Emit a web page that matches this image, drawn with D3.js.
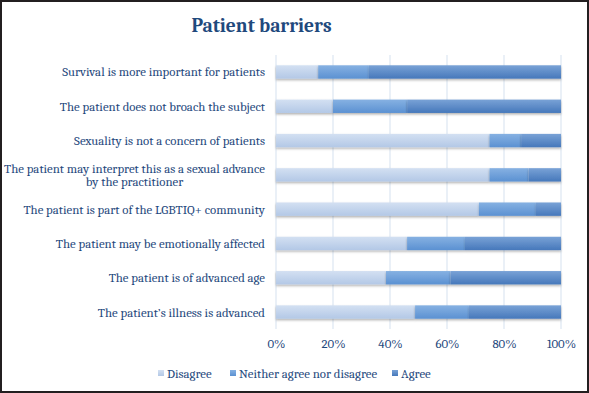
<!DOCTYPE html>
<html>
<head>
<meta charset="utf-8">
<script src="https://d3js.org/d3.v7.min.js"></script>
<style>
    html, body { margin: 0; padding: 0; background: #fff; }
    svg { display: block; }
</style>
</head>
<body>
<div id="chart"></div>
<script>
// answer categories, in stacking order
var series = ['Disagree', 'Neither agree nor disagree', 'Agree'];

// barriers, top to bottom (two-line labels split with \n)
var barriers = [
    'Survival is more important for patients',
    'The patient does not broach the subject',
    'Sexuality is not a concern of patients',
    'The patient may interpret this as a sexual advance\nby the practitioner',
    'The patient is part of the LGBTIQ+ community',
    'The patient may be emotionally affected',
    'The patient is of advanced age',
    'The patient\u2019s illness is advanced'
];

// share of answers (%) per barrier
var disagree = [14.8, 20.0, 74.9, 74.9, 71.2, 46.0, 38.6, 48.8];
var neither  = [17.8, 26.0, 11.1, 13.7, 20.0, 20.3, 22.6, 18.9];
var agree    = [67.4, 54.0, 14.0, 11.4,  8.8, 33.7, 38.8, 32.3];

var ticks = [0, 20, 40, 60, 80, 100];

var width = 589, height = 393;
var margin = {top: 55, right: 28, bottom: 64, left: 276};
var textColor = '#1f497d';
var serif = 'Cambria, "DejaVu Serif", serif';
var fontSize = '12.8px';

var colors = {
    'Disagree': ['#d3e0f2', '#b3c8e6'],
    'Neither agree nor disagree': ['#86b1e2', '#5b91d2'],
    'Agree': ['#79a2d6', '#4678bb']
};

var svg = d3.select('#chart').append('svg')
    .attr('width', width)
    .attr('height', height);

var defs = svg.append('defs');
series.forEach(function(s, i) {
    var g = defs.append('linearGradient')
        .attr('id', 'grad' + i)
        .attr('x1', 0).attr('y1', 0).attr('x2', 0).attr('y2', 1);
    g.append('stop').attr('offset', '0%').attr('stop-color', colors[s][0]);
    g.append('stop').attr('offset', '100%').attr('stop-color', colors[s][1]);
});
var shadow = defs.append('filter').attr('id', 'shadow')
    .attr('x', '-5%').attr('y', '-30%').attr('width', '110%').attr('height', '180%');
shadow.append('feDropShadow')
    .attr('dx', 0).attr('dy', 1.5).attr('stdDeviation', 1)
    .attr('flood-color', '#000').attr('flood-opacity', 0.3);

// frame
svg.append('rect')
    .attr('x', 1).attr('y', 1)
    .attr('width', width - 2).attr('height', height - 2)
    .attr('fill', '#fff')
    .attr('stroke', '#231f20')
    .attr('stroke-width', 2);

svg.append('text')
    .attr('x', width / 2 - 33)
    .attr('y', 32)
    .attr('text-anchor', 'middle')
    .attr('fill', textColor)
    .style('font-family', serif)
    .style('font-size', '19.5px')
    .style('font-weight', 'bold')
    .text('Patient barriers');

var x = d3.scaleLinear()
    .domain([0, 100])
    .range([margin.left, width - margin.right]);

var y = d3.scaleBand()
    .domain(barriers)
    .range([margin.top, height - margin.bottom])
    .paddingInner(0.61)
    .paddingOuter(0.3);

// grid
svg.append('g')
    .selectAll('line')
    .data(ticks)
    .join('line')
    .attr('x1', function(d) { return x(d); })
    .attr('x2', function(d) { return x(d); })
    .attr('y1', margin.top)
    .attr('y2', height - margin.bottom)
    .attr('stroke', '#dce6f2')
    .attr('stroke-width', 1.2);

var rows = barriers.map(function(b, i) {
    return {barrier: b, 'Disagree': disagree[i], 'Neither agree nor disagree': neither[i], 'Agree': agree[i]};
});
var stacked = d3.stack().keys(series)(rows);

svg.append('g')
    .selectAll('g')
    .data(stacked)
    .join('g')
    .attr('fill', function(d, i) { return 'url(#grad' + i + ')'; })
    .attr('filter', 'url(#shadow)')
    .selectAll('rect')
    .data(function(d) { return d; })
    .join('rect')
    .attr('x', function(d) { return x(d[0]); })
    .attr('width', function(d) { return x(d[1]) - x(d[0]); })
    .attr('y', function(d) { return y(d.data.barrier); })
    .attr('height', y.bandwidth());

// category labels
var labels = svg.append('g')
    .selectAll('text')
    .data(barriers)
    .join('text')
    .attr('fill', textColor)
    .style('font-family', serif)
    .style('font-size', fontSize);

labels.each(function(d) {
    var t = d3.select(this);
    var lines = d.split('\n');
    var cy = y(d) + y.bandwidth() / 2;
    var right = margin.left - 11;
    if (lines.length === 1) {
        t.attr('x', right).attr('y', cy).attr('dy', '0.35em')
            .attr('text-anchor', 'end').text(d);
        return;
    }
    t.attr('text-anchor', 'middle');
    var spans = lines.map(function(l, i) {
        return t.append('tspan').attr('x', 0)
            .attr('y', cy + (i - (lines.length - 1) / 2) * 13.5)
            .attr('dy', '0.35em').text(l);
    });
    var w = d3.max(spans, function(s) { return s.node().getComputedTextLength(); });
    spans.forEach(function(s) { s.attr('x', right - w / 2); });
});

// x axis labels
var axis = d3.axisBottom(x)
    .tickValues(ticks)
    .tickSize(0)
    .tickPadding(10)
    .tickFormat(function(d) { return d + '%'; });

var ag = svg.append('g')
    .attr('transform', 'translate(0,' + (height - margin.bottom) + ')')
    .call(axis);
ag.select('.domain').remove();
ag.selectAll('text')
    .attr('fill', textColor)
    .style('font-family', serif)
    .style('font-size', fontSize);

// legend
var legend = svg.append('g').attr('transform', 'translate(158,374)');
var offsets = [0, 72, 234];
series.forEach(function(s, i) {
    var g = legend.append('g').attr('transform', 'translate(' + offsets[i] + ',0)');
    g.append('rect')
        .attr('x', 0).attr('y', -4)
        .attr('width', 6).attr('height', 6)
        .attr('fill', 'url(#grad' + i + ')');
    g.append('text')
        .attr('x', 9).attr('y', 0).attr('dy', '0.3em')
        .attr('fill', textColor)
        .style('font-family', serif)
        .style('font-size', fontSize)
        .text(s);
});
</script>
</body>
</html>
